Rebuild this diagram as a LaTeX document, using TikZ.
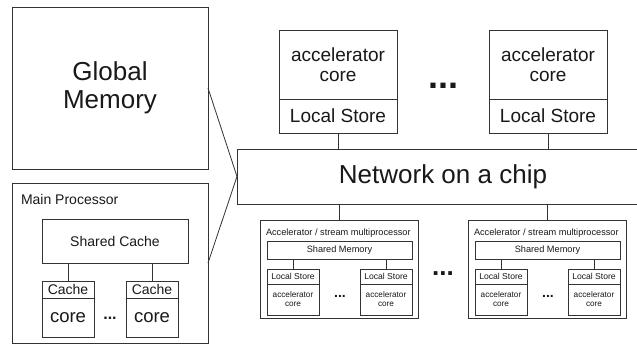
\documentclass[tikz,border=0pt]{standalone}
\usepackage{fontspec}
\setmainfont{Liberation Sans}
\newcommand\dotrow[2]{{\fontsize{#1}{#1}\selectfont\bfseries .\kern#2.\kern#2.}}
\begin{document}
\begin{tikzpicture}[x=1pt,y=-1pt,
  every node/.style={inner sep=0pt,outer sep=0pt,text=black!90},
  blk/.style={draw=black!80,line width=0.9pt,align=center},
  link/.style={draw=black!80,line width=0.8pt},
  huge/.style={font=\fontsize{26}{28}\selectfont},
  big/.style={font=\fontsize{19}{20}\selectfont},
  mid/.style={font=\fontsize{14}{15}\selectfont},
  midcore/.style={font=\fontsize{18.5}{19}\selectfont},
  tiny/.style={font=\fontsize{8.6}{9}\selectfont},
  tinyt/.style={font=\fontsize{8.2}{9}\selectfont},
  tinycap/.style={font=\fontsize{9.2}{10}\selectfont},
  dotsep/.style={anchor=base}]
\useasboundingbox (0,0) rectangle (637,345);
\fill[white] (0,0) rectangle (637,345);

% global memory and network
\node[blk,huge,minimum width=196pt,minimum height=162pt] (gm) at (110,88) {Global\\Memory};
\node[blk,huge,minimum width=412pt,minimum height=55pt] (noc) at (443,176.5) {Network on a chip};

% accelerator cores on the network
\foreach \i/\x in {1/338,2/548}{
  \node[blk,big,minimum width=118pt,minimum height=69pt] (ac\i) at (\x,64.5) {accelerator\\core};
  \node[blk,big,minimum width=118pt,minimum height=34pt] (ls\i) at (\x,116) {Local Store};
  \draw[link] (ls\i.south) -- (ls\i.south |- noc.north);
}
\node[dotsep] (topdots) at (443,88.5) {\dotrow{36}{0pt}};

% stream multiprocessors
\foreach \i/\x in {1/339,2/547}{
  \node[blk,minimum width=158pt,minimum height=98pt] (sm\i) at (\x,269) {};
  \node[tinycap,anchor=base west] (smt\i) at (\x-73,235) {Accelerator / stream multiprocessor};
  \node[blk,tinycap,minimum width=145pt,minimum height=18pt] (shm\i) at (\x+0.5,250) {Shared Memory};
  \node[blk,tiny,minimum width=52pt,minimum height=15pt] (lsa\i) at (\x-46,276.5) {Local Store};
  \node[blk,tinyt,minimum width=52pt,minimum height=31pt] (aca\i) at (\x-46,299.5) {accelerator\\core};
  \node[blk,tiny,minimum width=52pt,minimum height=15pt] (lsb\i) at (\x+47,276.5) {Local Store};
  \node[blk,tinyt,minimum width=52pt,minimum height=31pt] (acb\i) at (\x+47,299.5) {accelerator\\core};
  \node[dotsep] (smdots\i) at (\x+1,297) {\dotrow{14}{0pt}};
  \draw[link] (lsa\i.north) -- (lsa\i.north |- shm\i.south);
  \draw[link] (lsb\i.north) -- (lsb\i.north |- shm\i.south);
  \draw[link] (sm\i.north) -- (sm\i.north |- noc.south);
}
\node[dotsep] (middots) at (443,275) {\dotrow{26}{0pt}};

% main processor
\node[blk,minimum width=196pt,minimum height=160pt] (mp) at (110,263) {};
\node[mid,anchor=base west] (mpt) at (21,204) {Main Processor};
\node[blk,mid,minimum width=146pt,minimum height=44pt] (sc) at (115,241) {Shared Cache};
\foreach \i/\x in {1/68,2/152}{
  \node[blk,mid,minimum width=52pt,minimum height=17pt] (ca\i) at (\x,289.5) {Cache};
  \node[blk,midcore,minimum width=52pt,minimum height=39pt] (co\i) at (\x,317.5) {core};
  \draw[link] (ca\i.north) -- (ca\i.north |- sc.south);
}
\node[dotsep] (mpdots) at (110,319) {\dotrow{16}{0pt}};

% links to the network
\draw[link] (gm.east) -- (noc.west);
\draw[link] (mp.east) -- (noc.west);
\end{tikzpicture}
\end{document}
